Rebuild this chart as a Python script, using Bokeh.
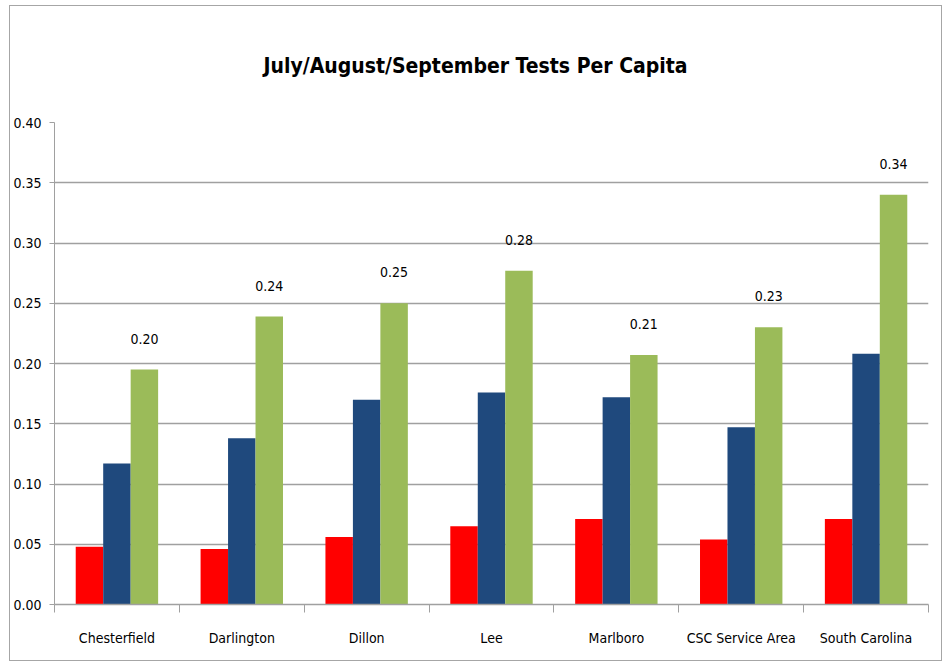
import subprocess
from bokeh.plotting import figure
from bokeh.models import ColumnDataSource, FixedTicker, LinearAxis, Range1d
from bokeh.core.properties import value
from bokeh.transform import dodge
from bokeh.embed import file_html
from bokeh.resources import INLINE

categories = ["Chesterfield", "Darlington", "Dillon", "Lee", "Marlboro",
              "CSC Service Area", "South Carolina"]
july = [0.048, 0.046, 0.056, 0.065, 0.071, 0.054, 0.071]
august = [0.117, 0.138, 0.170, 0.176, 0.172, 0.147, 0.208]
september = [0.195, 0.239, 0.250, 0.277, 0.207, 0.230, 0.340]
sept_labels = ["0.20", "0.24", "0.25", "0.28", "0.21", "0.23", "0.34"]
y_ticks = [0.00, 0.05, 0.10, 0.15, 0.20, 0.25, 0.30, 0.35, 0.40]


def pick_font(cands):
    try:
        out = subprocess.run(["fc-list", ":", "family"], capture_output=True,
                             text=True, timeout=10).stdout
    except Exception:
        out = ""
    for c in cands:
        if c in out:
            return c
    return cands[-1]


FONT = pick_font(["Liberation Sans Narrow", "Noto Sans SemiCondensed",
                  "Noto Sans Condensed", "DejaVu Sans Condensed", "Noto Sans"])

xpos = [i + 0.5 for i in range(len(categories))]
src = ColumnDataSource(dict(x=xpos, cat=categories, jul=july, aug=august,
                            sep=september, lab=sept_labels))

p = figure(width=933, height=656, output_backend="svg", toolbar_location=None,
           x_range=Range1d(0, len(categories)), y_range=Range1d(0, 0.40),
           x_axis_location=None, y_axis_location=None,
           min_border_left=42, min_border_right=15, min_border_top=116,
           min_border_bottom=58)
p.styles = {"border": "1px solid #a6a6a6", "margin-left": "9px", "margin-top": "5px"}
p.outline_line_color = None
p.title.text = "July/August/September Tests Per Capita"
p.title.align = "left"
p.title.offset = 209
p.title.text_font = FONT
p.title.text_font_size = "21px"
p.title.text_font_style = "bold"
p.title.text_color = "#000000"
p.title.standoff = 89

w = 0.22
p.vbar(x=dodge("x", -w, range=p.x_range), top="jul", width=w, source=src,
       fill_color="#FF0000", line_color=None)
p.vbar(x=dodge("x", 0, range=p.x_range), top="aug", width=w, source=src,
       fill_color="#1F497D", line_color=None)
p.vbar(x=dodge("x", w, range=p.x_range), top="sep", width=w, source=src,
       fill_color="#9BBB59", line_color=None)
p.text(x=dodge("x", w, range=p.x_range), y="sep", text="lab", source=src,
       text_align="center", text_baseline="bottom", y_offset=-26,
       text_font=value(FONT), text_font_size=value("14px"), text_color="#000000")

p.xgrid.visible = False
p.ygrid.ticker = FixedTicker(ticks=y_ticks)
p.ygrid.grid_line_color = "#a0a0a0"
p.ygrid.grid_line_width = 1.5

yax = LinearAxis(ticker=FixedTicker(ticks=y_ticks))
yax.major_label_overrides = {t: f"{t:.2f}" for t in y_ticks}
yax.axis_line_color = "#a0a0a0"
yax.major_tick_line_color = "#a0a0a0"
yax.major_tick_out = 5
yax.major_tick_in = 0
yax.minor_tick_line_color = None
yax.major_label_standoff = 8
yax.major_label_text_font = FONT
yax.major_label_text_font_size = "14px"
yax.major_label_text_color = "#000000"
p.add_layout(yax, "left")

xax = LinearAxis(ticker=FixedTicker(ticks=xpos,
                                    minor_ticks=list(range(len(categories) + 1))))
xax.major_label_overrides = {x: c for x, c in zip(xpos, categories)}
xax.axis_line_color = "#a0a0a0"
xax.axis_line_width = 1.5
xax.major_tick_line_color = None
xax.major_tick_out = 0
xax.major_tick_in = 0
xax.minor_tick_line_color = "#a0a0a0"
xax.minor_tick_out = 8
xax.minor_tick_in = 0
xax.major_label_standoff = 17
xax.major_label_text_font = FONT
xax.major_label_text_font_size = "14px"
xax.major_label_text_color = "#000000"
p.add_layout(xax, "below")

open("out.html", "w").write(file_html(p, INLINE))
